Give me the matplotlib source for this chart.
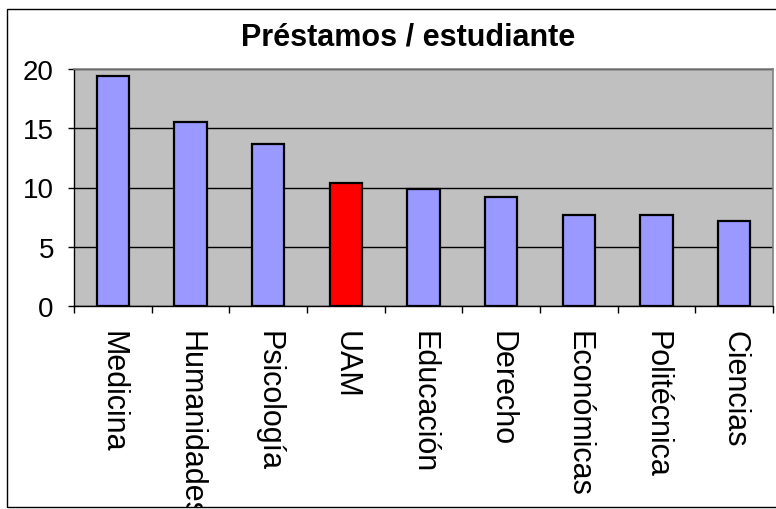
import matplotlib.pyplot as plt
from matplotlib.patches import Rectangle
import numpy as np

categories = ["Medicina", "Humanidades", "Psicología", "UAM", "Educación",
              "Derecho", "Económicas", "Politécnica", "Ciencias"]
values = [19.4, 15.55, 13.7, 10.35, 9.9, 9.2, 7.65, 7.65, 7.15]
bar_colors = ["#9999FF", "#9999FF", "#9999FF", "#FF0000", "#9999FF",
              "#9999FF", "#9999FF", "#9999FF", "#9999FF"]

plt.rcParams["font.family"] = ["Liberation Sans", "DejaVu Sans"]

fig = plt.figure(figsize=(7.76, 5.10), dpi=100)
ax = fig.add_axes([74 / 776, 1 - 307 / 510, 699 / 776, 237 / 510])
ax.set_facecolor("#C0C0C0")

x = np.arange(len(categories))
ax.bar(x, values, width=0.42, color=bar_colors, edgecolor="black",
       linewidth=1.6, zorder=3)

ax.set_xlim(-0.5, len(categories) - 0.5)
ax.set_ylim(0, 20)
ax.set_yticks([0, 5, 10, 15, 20])
ax.yaxis.grid(True, color="black", linewidth=1.0, zorder=1)
ax.set_axisbelow(True)

ax.set_xticks(x)
ax.set_xticklabels(categories, rotation=270, ha="center", va="top",
                   fontsize=22)
ax.tick_params(axis="x", which="major", length=0, pad=17)
ax.set_xticks(np.arange(len(categories) + 1) - 0.5, minor=True)
ax.tick_params(axis="x", which="minor", length=5, width=1, direction="out")
ax.tick_params(axis="y", length=4.5, width=1, direction="out", labelsize=20,
               pad=10)

for side in ["top", "right"]:
    ax.spines[side].set_color("#808080")
    ax.spines[side].set_linewidth(1.2)
for side in ["left", "bottom"]:
    ax.spines[side].set_color("black")
    ax.spines[side].set_linewidth(1.0)

fig.text(408 / 776, 1 - 38 / 510, "Préstamos / estudiante",
         ha="center", va="center", fontsize=22, fontweight="bold")

# chart frame
frame = Rectangle((7 / 776, 2 / 510), 1.0, 498 / 510,
                  transform=fig.transFigure, fill=False,
                  edgecolor="black", linewidth=1.0, zorder=10)
fig.patches.append(frame)

# the frame clips the long label, as in the original chart
for lbl in ax.get_xticklabels():
    lbl.set_clip_on(True)
    lbl.set_clip_path(frame)

fig.savefig("out.png", dpi=100, facecolor="white")
